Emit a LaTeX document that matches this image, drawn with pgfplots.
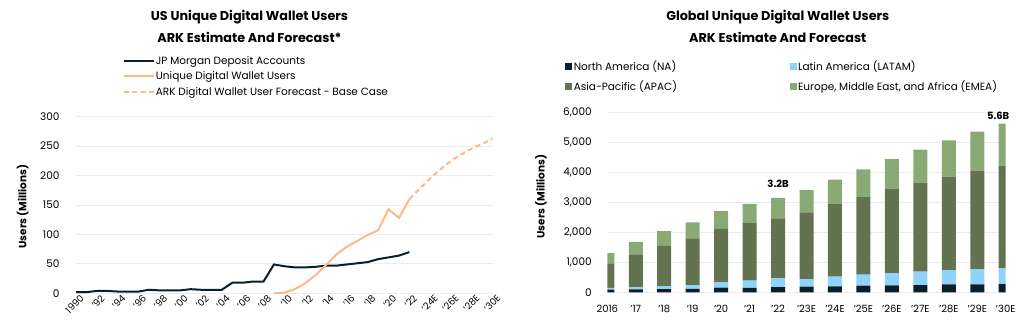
\documentclass[border=0pt]{standalone}
\usepackage{pgfplots}
\pgfplotsset{compat=1.18}
\usepackage{fontspec}
\setmainfont{Poppins}
\definecolor{navy}{HTML}{0B1F2B}
\definecolor{orng}{HTML}{FDBA86}
\definecolor{latam}{HTML}{8DD3FC}
\definecolor{apac}{HTML}{63734F}
\definecolor{emea}{HTML}{8AAA75}
\definecolor{gridc}{HTML}{EBEBEB}

\pgfplotstableread{
x NA LATAM APAC EMEA
0 90 60 820 340
1 100 67 1100 420
2 105 105 1343 490
3 115 128 1557 533
4 153 190 1777 600
5 150 237 1923 643
6 177 290 2000 686
7 187 256 2224 743
8 200 320 2423 824
9 220 367 2596 927
10 235 405 2803 1010
11 243 444 2980 1100
12 267 476 3124 1210
13 267 510 3290 1300
14 277 523 3433 1400
}\globaltable

\begin{document}
\begin{tikzpicture}
\useasboundingbox (0pt,0pt) rectangle (1024pt,324pt);
% titles
\node[font=\bfseries\fontsize{12.8}{14}\selectfont] at (249.5pt,306.7pt) {US Unique Digital Wallet Users};
\node[font=\bfseries\fontsize{12.8}{14}\selectfont] at (249.5pt,286.3pt) {ARK Estimate And Forecast*};
\node[font=\bfseries\fontsize{12.8}{14}\selectfont] at (777.8pt,306.7pt) {Global Unique Digital Wallet Users};
\node[font=\bfseries\fontsize{12.8}{14}\selectfont] at (777.8pt,286.3pt) {ARK Estimate And Forecast};
\node[rotate=90,font=\bfseries\fontsize{10.5}{13}\selectfont] at (22.7pt,117.3pt) {Users (Millions)};
\node[rotate=90,font=\bfseries\fontsize{10.5}{13}\selectfont] at (541pt,127.3pt) {Users (Millions)};

\begin{axis}[
  at={(76pt,30.7pt)}, anchor=south west, scale only axis,
  width=416.7pt, height=176.6pt,
  xmin=1990, xmax=2030, ymin=0, ymax=300,
  ytick={0,50,...,300},
  xtick={1990,1992,...,2030},
  xticklabels={1990,'92,'94,'96,'98,'00,'02,'04,'06,'08,'10,'12,'14,'16,'18,'20,'22,'24E,'26E,'28E,'30E},
  axis line style={draw=none}, major tick style={draw=none},
  ymajorgrids, grid style={gridc, line width=0.8pt},
  /pgf/number format/assume math mode=true,
  tick label style={font=\fontsize{10.5}{13}\selectfont},
  yticklabel style={xshift=-13pt},
  xticklabel style={rotate=45, anchor=north east, inner sep=1pt, xshift=3pt, yshift=-2pt, font=\fontsize{9.5}{12}\selectfont},
  legend style={at={(0.112,1.35)}, anchor=north west, draw=none, fill=none,
    font=\fontsize{10.5}{13}\selectfont, inner sep=0pt, row sep=4pt,
    nodes={inner sep=1pt}},
  legend cell align=left,
  legend image code/.code={\draw[#1] (0pt,0pt) -- (30pt,0pt);},
]
\addplot[navy, line width=2pt] coordinates {
(1990,2) (1991,2) (1992,4) (1993,4) (1994,3) (1995,3) (1996,3) (1997,6) (1998,5) (1999,5)
(2000,5) (2001,7) (2002,6) (2003,6) (2004,6) (2005,18) (2006,18) (2007,20) (2008,20)
(2009,49) (2010,46) (2011,44) (2012,44) (2013,45) (2014,47) (2015,47) (2016,49) (2017,51)
(2018,53) (2019,58) (2020,61) (2021,64) (2022,70)};
\addlegendentry{JP Morgan Deposit Accounts}
\addplot[orng, line width=2pt] coordinates {
(2009,0) (2010,1) (2011,7) (2012,17) (2013,31) (2014,48) (2015,66) (2016,79) (2017,89)
(2018,99) (2019,107) (2020,143) (2021,128) (2022,160)};
\addlegendentry{Unique Digital Wallet Users}
\addplot[orng, line width=2pt, dash pattern=on 5pt off 3.5pt] coordinates {
(2022,160) (2023,178) (2024,195) (2025,211) (2026,225) (2027,236) (2028,246) (2029,254) (2030,263)};
\addlegendentry{ARK Digital Wallet User Forecast - Base Case}
\end{axis}

\begin{axis}[
  at={(607.3pt,31.7pt)}, anchor=south west, scale only axis,
  width=398.4pt, height=179.6pt,
  xmin=0, xmax=14, ymin=0, ymax=6000,
  ybar stacked, bar width=14pt,
  xtick={0,...,14},
  xticklabels={2016,'17,'18,'19,'20,'21,'22,'23E,'24E,'25E,'26E,'27E,'28E,'29E,'30E},
  ytick={0,1000,...,6000}, scaled y ticks=false,
  /pgf/number format/.cd, 1000 sep={,}, assume math mode=true, /pgfplots/.cd,
  axis line style={draw=none}, major tick style={draw=none},
  ymajorgrids, grid style={gridc, line width=0.8pt},
  tick label style={font=\fontsize{10.5}{13}\selectfont},
  yticklabel style={xshift=-12pt},
  xticklabel style={yshift=-9pt, font=\fontsize{10}{12}\selectfont},
  legend columns=2,
  legend style={at={(-0.106,1.30)}, anchor=north west, draw=none, fill=none,
    font=\fontsize{10.5}{13}\selectfont, inner sep=0pt, row sep=6pt,
    nodes={inner sep=1.5pt},
    /tikz/every even column/.append style={column sep=111pt}},
  legend cell align=left,
  legend image code/.code={\fill[#1] (0pt,-3.5pt) rectangle (7pt,3.5pt);},
  after end axis/.code={
    \node[font=\bfseries\fontsize{10}{12}\selectfont, anchor=south] at (axis cs:6,3153) [yshift=7pt] {3.2B};
    \node[font=\bfseries\fontsize{10}{12}\selectfont, anchor=south east] at (axis cs:14.25,5633) [yshift=1pt] {5.6B};
  },
]
\addplot[fill=navy, draw=none] table[x=x, y=NA] {\globaltable};
\addlegendentry{North America (NA)}
\addplot[fill=latam, draw=none] table[x=x, y=LATAM] {\globaltable};
\addlegendentry{Latin America (LATAM)}
\addplot[fill=apac, draw=none] table[x=x, y=APAC] {\globaltable};
\addlegendentry{Asia-Pacific (APAC)}
\addplot[fill=emea, draw=none] table[x=x, y=EMEA] {\globaltable};
\addlegendentry{Europe, Middle East, and Africa (EMEA)}
\end{axis}
\end{tikzpicture}
\end{document}
